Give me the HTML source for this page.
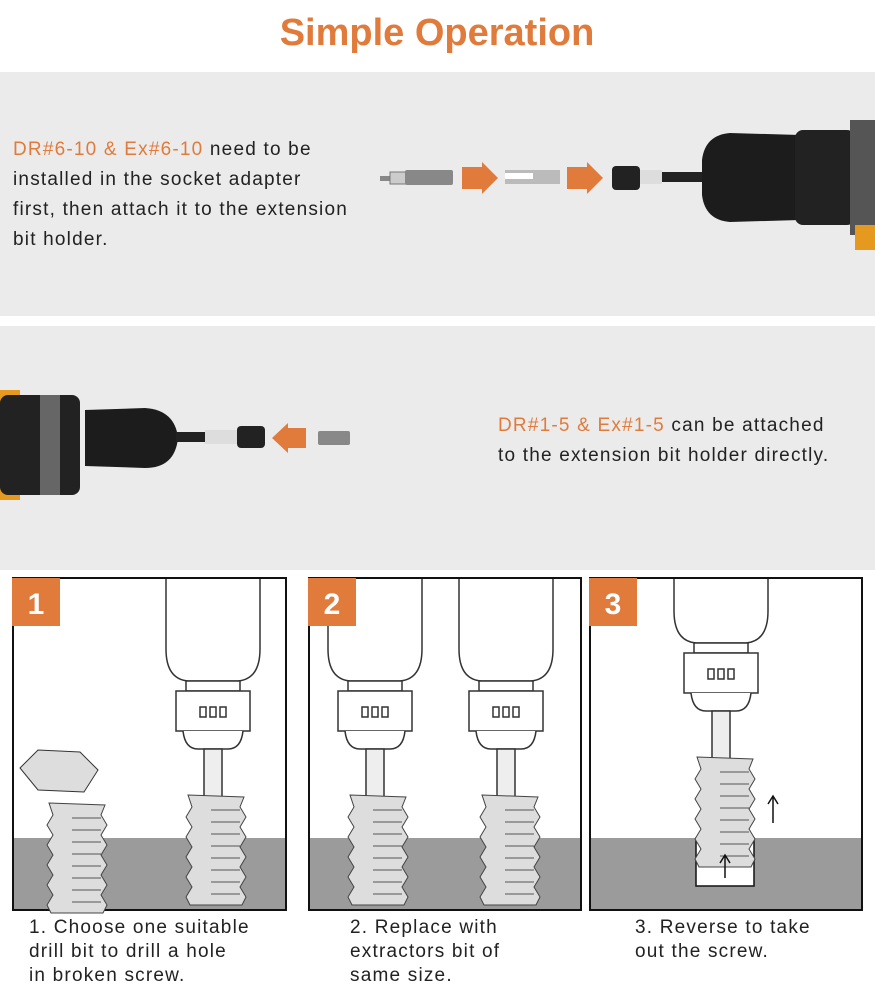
<!DOCTYPE html>
<html><head><style>
body{margin:0;width:875px;height:1000px;background:#fff;overflow:hidden;font-family:"Liberation Sans",sans-serif;position:relative}
.t{position:absolute;font-size:19px;letter-spacing:1.2px;line-height:30px;color:#222}
.o{color:#e07b3c}
</style></head><body>
<svg width="875" height="1000" style="position:absolute;left:0;top:0">
<text x="437" y="45" text-anchor="middle" font-family="Liberation Sans" font-weight="bold" font-size="38" fill="#e07b3c">Simple Operation</text>
<rect x="0" y="72" width="875" height="244" fill="#ebebeb"/>
<rect x="0" y="326" width="875" height="244" fill="#ebebeb"/>
<rect x="380" y="176" width="10" height="5" fill="#888"/>
<rect x="390" y="172" width="16" height="12" fill="#ccc" stroke="#777"/>
<rect x="405" y="170" width="48" height="15" rx="2" fill="#888"/>
<polygon points="462,167 482,167 482,162 498,178 482,194 482,189 462,189" fill="#e07b3c"/>
<rect x="505" y="170" width="55" height="14" fill="#bbb"/>
<rect x="505" y="173" width="28" height="6" fill="#fff"/>
<polygon points="567,167 587,167 587,162 603,178 587,194 587,189 567,189" fill="#e07b3c"/>
<rect x="612" y="166" width="28" height="24" rx="4" fill="#222"/>
<rect x="640" y="170" width="22" height="14" fill="#ddd"/>
<rect x="662" y="172" width="40" height="10" fill="#222"/>
<path d="M702 160 Q705 135 730 133 L800 135 L800 220 L730 222 Q705 220 702 195Z" fill="#1c1c1c"/>
<rect x="795" y="130" width="60" height="95" rx="8" fill="#222"/>
<rect x="850" y="120" width="25" height="115" fill="#555"/>
<rect x="855" y="225" width="20" height="25" fill="#e59a1f"/>
<rect x="0" y="390" width="20" height="110" fill="#e59a1f"/>
<rect x="0" y="395" width="80" height="100" rx="8" fill="#222"/>
<rect x="40" y="395" width="20" height="100" fill="#666"/>
<path d="M85 410 L145 408 Q175 410 178 438 Q175 468 145 468 L85 466Z" fill="#1c1c1c"/>
<rect x="176" y="432" width="30" height="10" fill="#222"/>
<rect x="205" y="430" width="32" height="14" fill="#ddd"/>
<rect x="237" y="426" width="28" height="22" rx="4" fill="#222"/>
<polygon points="306,428 288,428 288,423 272,438 288,453 288,448 306,448" fill="#e07b3c"/>
<rect x="318" y="431" width="32" height="14" rx="2" fill="#888"/>
<g stroke="#111" stroke-width="2" fill="#fff">
<rect x="13" y="578" width="273" height="332"/>
<rect x="309" y="578" width="272" height="332"/>
<rect x="590" y="578" width="272" height="332"/>
</g>
<rect x="14" y="838" width="271" height="71" fill="#9b9b9b"/>
<rect x="310" y="838" width="270" height="71" fill="#9b9b9b"/>
<rect x="591" y="838" width="270" height="71" fill="#9b9b9b"/>
<rect x="696" y="838" width="58" height="48" fill="#fff" stroke="#111" stroke-width="1.5"/>
<defs>
<clipPath id="cp"><rect x="0" y="579" width="875" height="330"/></clipPath>
<g id="drill" stroke="#333" stroke-width="1.5" fill="#fff">
<path d="M-47 -10 V70 Q-47 100 -25 102 H25 Q47 100 47 70 V-10"/>
<rect x="-27" y="102" width="54" height="10"/>
<rect x="-37" y="112" width="74" height="40"/>
<path d="M-30 152 Q-28 170 -15 170 H15 Q28 170 30 152"/>
<rect x="-9" y="170" width="18" height="48" fill="#eee"/>
<rect x="-3" y="128" width="6" height="10"/><rect x="-13" y="128" width="6" height="10"/><rect x="7" y="128" width="6" height="10"/>
</g>
<g id="screw" stroke="#444" stroke-width="1" fill="#ddd">
<path d="M-28 0 L28 2 L24 12 L30 22 L24 32 L30 42 L24 52 L30 62 L24 72 L30 82 L24 92 L30 102 L26 110 H-26 L-30 102 L-24 92 L-30 82 L-24 72 L-30 62 L-24 52 L-30 42 L-24 32 L-30 22 L-24 12Z"/>
<g stroke="#555"><line x1="-5" y1="15" x2="24" y2="15"/><line x1="-5" y1="27" x2="24" y2="27"/><line x1="-5" y1="39" x2="24" y2="39"/><line x1="-5" y1="51" x2="24" y2="51"/><line x1="-5" y1="63" x2="24" y2="63"/><line x1="-5" y1="75" x2="24" y2="75"/><line x1="-5" y1="87" x2="24" y2="87"/><line x1="-5" y1="99" x2="24" y2="99"/></g>
</g>
</defs>
<g clip-path="url(#cp)">
<use href="#drill" transform="translate(213,579)"/>
<use href="#drill" transform="translate(375,579)"/>
<use href="#drill" transform="translate(506,579)"/>
<use href="#drill" transform="translate(721,541)"/>
</g>
<use href="#screw" transform="translate(216,795)"/>
<use href="#screw" transform="translate(77,803)"/>
<path d="M20 768 L38 750 L80 752 L98 770 L84 792 L38 790Z" fill="#ddd" stroke="#333"/>
<path d="M500 796 L513 796 L510 806 L503 806Z" fill="#8a6e5a"/>
<use href="#screw" transform="translate(378,795)"/>
<use href="#screw" transform="translate(510,795)"/>
<use href="#screw" transform="translate(725,757)"/>
<path d="M773 823 V797 M768 804 L773 796 L778 804" stroke="#111" stroke-width="1.5" fill="none"/>
<path d="M725 878 V856 M720 863 L725 855 L730 863" stroke="#111" stroke-width="1.5" fill="none"/>
<g fill="#e07b3c"><rect x="12" y="578" width="48" height="48"/><rect x="308" y="578" width="48" height="48"/><rect x="589" y="578" width="48" height="48"/></g>
<g font-family="Liberation Sans" font-weight="bold" font-size="30" fill="#fff" text-anchor="middle">
<text x="36" y="614">1</text><text x="332" y="614">2</text><text x="613" y="614">3</text></g>
</svg>
<div class="t" style="left:13px;top:135px"><span class="o">DR#6-10 &amp; Ex#6-10</span> need to be<br>installed in the socket adapter<br>first, then attach it to the extension<br>bit holder.</div>
<div class="t" style="left:498px;top:411px"><span class="o">DR#1-5 &amp; Ex#1-5</span> can be attached<br>to the extension bit holder directly.</div>
<div class="t" style="left:29px;top:916px;line-height:24px">1. Choose one suitable<br>drill bit to drill a hole<br>in broken screw.</div>
<div class="t" style="left:350px;top:916px;line-height:24px">2. Replace with<br>extractors bit of<br>same size.</div>
<div class="t" style="left:635px;top:916px;line-height:24px">3. Reverse to take<br>out the screw.</div>
</body></html>
